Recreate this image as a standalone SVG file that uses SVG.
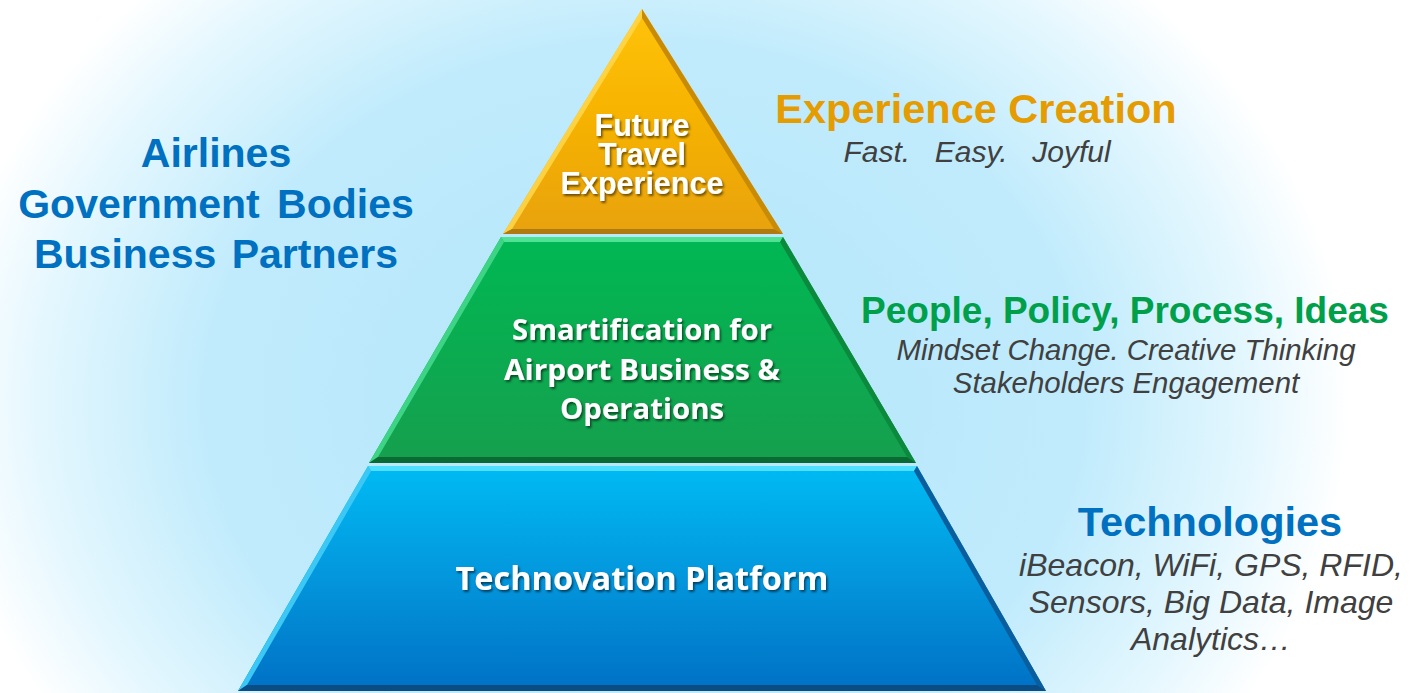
<svg xmlns="http://www.w3.org/2000/svg" width="1411" height="693" viewBox="0 0 1411 693">
  <defs>
    <radialGradient id="bg" gradientUnits="userSpaceOnUse" cx="645" cy="400" r="705" gradientTransform="translate(645 400) scale(1 0.82) translate(-645 -400)">
      <stop offset="0" stop-color="#b3e6fb"/>
      <stop offset="0.62" stop-color="#c0ebfc"/>
      <stop offset="0.86" stop-color="#e4f7fe"/>
      <stop offset="1" stop-color="#ffffff"/>
    </radialGradient>
    <linearGradient id="gOrange" x1="0" y1="0" x2="0" y2="1">
      <stop offset="0" stop-color="#ffc30a"/>
      <stop offset="0.5" stop-color="#f6b200"/>
      <stop offset="1" stop-color="#e8a20e"/>
    </linearGradient>
    <linearGradient id="gGreen" x1="0" y1="0" x2="0" y2="1">
      <stop offset="0" stop-color="#00b853"/>
      <stop offset="1" stop-color="#169f4e"/>
    </linearGradient>
    <linearGradient id="gBlue" x1="0" y1="0" x2="0" y2="1">
      <stop offset="0" stop-color="#00bbf3"/>
      <stop offset="0.5" stop-color="#0396dc"/>
      <stop offset="1" stop-color="#0071c5"/>
    </linearGradient>
    <filter id="shadow" x="-10%" y="-20%" width="120%" height="150%">
      <feDropShadow dx="1.5" dy="2" stdDeviation="1" flood-color="#000" flood-opacity="0.55"/>
    </filter>
  </defs>
  <style>
    .head { font-family: "Liberation Sans", Arial, sans-serif; font-weight: bold; text-anchor: middle; }
    .sub { font-family: "Liberation Sans", Arial, sans-serif; font-style: italic; fill: #404040; text-anchor: middle; }
    .layerTxt { font-family: "Open Sans", Lato, sans-serif; font-weight: bold; fill: #ffffff; text-anchor: middle; }
    .topTxt { font-family: "Liberation Sans", Arial, sans-serif; font-weight: bold; fill: #ffffff; text-anchor: middle; }
  </style>

  <rect id="background" x="0" y="0" width="1411" height="693" fill="url(#bg)"/>

  <g id="node-top">
    <polygon points="642,9 783,234 503,234" fill="url(#gOrange)"/>
    <polygon points="642,9 642,18 512,229 503,234" fill="#ffd548" opacity="0.9"/>
    <polygon points="642,9 783,234 774,229 642,18" fill="#c98b05"/>
    <polygon points="503,234 512,229 774,229 783,234" fill="#b07a12"/>
    <g filter="url(#shadow)">
      <text class="topTxt" x="642" y="136" font-size="30.5">Future</text>
      <text class="topTxt" x="642" y="165" font-size="30.5">Travel</text>
      <text class="topTxt" x="642" y="194" font-size="30.5">Experience</text>
    </g>
  </g>

  <g id="node-middle">
    <polygon points="501,237 783,237 916,463 369,463" fill="url(#gGreen)"/>
    <polygon points="501,237 783,237 780,242 504,242" fill="#4fe294"/>
    <polygon points="501,237 504,242 378,457 369,463" fill="#3ed485"/>
    <polygon points="783,237 916,463 907,457 780,242" fill="#0b8a3e"/>
    <polygon points="369,463 378,457 907,457 916,463" fill="#0a6a33"/>
    <g filter="url(#shadow)">
      <text class="layerTxt" x="642" y="340" font-size="29" textLength="260" lengthAdjust="spacingAndGlyphs">Smartification for</text>
      <text class="layerTxt" x="642" y="380" font-size="29" textLength="276" lengthAdjust="spacingAndGlyphs">Airport Business &amp;</text>
      <text class="layerTxt" x="642" y="419" font-size="29" textLength="164" lengthAdjust="spacingAndGlyphs">Operations</text>
    </g>
  </g>

  <g id="node-bottom">
    <polygon points="368,466 917,466 1046,691 238,691" fill="url(#gBlue)"/>
    <polygon points="368,466 917,466 914,471 371,471" fill="#4fe0ff"/>
    <polygon points="368,466 371,471 247,685 238,691" fill="#3cc8f5"/>
    <polygon points="917,466 1046,691 1037,685 914,471" fill="#0a5e9e"/>
    <polygon points="238,691 247,685 1037,685 1046,691" fill="#0a4d84"/>
    <g filter="url(#shadow)">
      <text class="layerTxt" x="642" y="590" font-size="33" textLength="373" lengthAdjust="spacingAndGlyphs">Technovation Platform</text>
    </g>
  </g>

  <g id="stakeholders">
    <text class="head" x="216" y="167" font-size="41" fill="#0070c0">Airlines</text>
    <text class="head" x="216" y="218" font-size="41" fill="#0070c0" word-spacing="6">Government Bodies</text>
    <text class="head" x="216" y="268" font-size="41" fill="#0070c0" word-spacing="4">Business Partners</text>
  </g>

  <g id="label-experience">
    <text class="head" x="976" y="123" font-size="41.5" fill="#e59c00">Experience Creation</text>
    <text class="sub" x="977" y="162" font-size="30" word-spacing="4" xml:space="preserve">Fast.  Easy.  Joyful</text>
  </g>

  <g id="label-people">
    <text class="head" x="1125" y="323" font-size="37" fill="#00a04a">People, Policy, Process, Ideas</text>
    <text class="sub" x="1126" y="360" font-size="29.4">Mindset Change. Creative Thinking</text>
    <text class="sub" x="1126" y="393" font-size="29.4">Stakeholders Engagement</text>
  </g>

  <g id="label-technologies">
    <text class="head" x="1210" y="536" font-size="41.5" fill="#0070c0">Technologies</text>
    <text class="sub" x="1211" y="576" font-size="32">iBeacon, WiFi, GPS, RFID,</text>
    <text class="sub" x="1211" y="613" font-size="32">Sensors, Big Data, Image</text>
    <text class="sub" x="1211" y="650" font-size="32">Analytics…</text>
  </g>
</svg>
